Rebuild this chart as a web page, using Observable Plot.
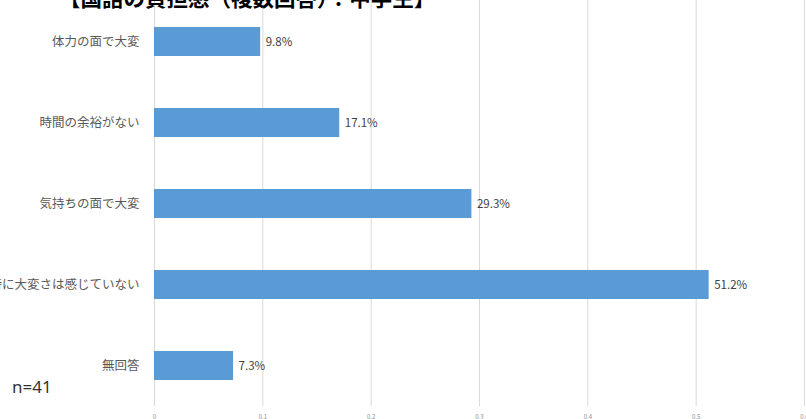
<!DOCTYPE html>
<html>
<head>
<meta charset="utf-8">
<script src="https://cdn.jsdelivr.net/npm/d3@7"></script>
<script src="https://cdn.jsdelivr.net/npm/@observablehq/plot@0.6"></script>
<style>
  html, body { margin: 0; padding: 0; background: #fff; overflow: hidden; }
  #wrap { position: relative; width: 806px; height: 419px; }
  #title { position: absolute; left: 59px; top: -16px; font-family: "Noto Sans CJK JP", sans-serif; font-weight: 700; font-size: 21.5px; color: #000; white-space: nowrap; z-index: 2; line-height: 1.2; }
  #note { position: absolute; left: 12px; top: 377px; font-family: "Noto Sans", sans-serif; font-size: 17px; color: #333; white-space: nowrap; line-height: 1.2; }
</style>
</head>
<body>
<div id="wrap">
  <div id="title">【国語の負担感（複数回答）：中学生】</div>
  <div id="chart"></div>
  <div id="note">n=41</div>
</div>
<script>
const categories = ["体力の面で大変", "時間の余裕がない", "気持ちの面で大変", "特に大変さは感じていない", "無回答"];
const values = [0.098, 0.171, 0.293, 0.512, 0.073];
const xTicks = [0, 0.1, 0.2, 0.3, 0.4, 0.5, 0.6];

const data = categories.map((c, i) => ({category: c, value: values[i]}));

const chart = Plot.plot({
  width: 806,
  height: 419,
  marginLeft: 154,
  marginRight: 2,
  marginTop: 0,
  marginBottom: 13,
  style: {fontFamily: "'Noto Sans CJK JP', sans-serif", background: "#fff"},
  x: {domain: [0, 0.6], ticks: xTicks, tickFormat: d => String(d), label: null},
  y: {domain: categories, paddingInner: 0.643, paddingOuter: 0.32, label: null},
  marks: [
    Plot.gridX(xTicks, {stroke: "#d9d9d9", strokeOpacity: 1, strokeWidth: 1}),
    Plot.barX(data, {x: "value", y: "category", fill: "#5B9BD5"}),
    Plot.text(data, {x: "value", y: "category", text: d => (d.value * 100).toFixed(1) + "%", textAnchor: "start", dx: 5, fontSize: 11.5, fill: "#404040"}),
    Plot.axisY({tickSize: 0, tickPadding: 15, fontSize: 12.5, color: "#595959"}),
    Plot.axisX({ticks: xTicks, tickFormat: d => String(d), tickSize: 0, tickPadding: 8, fontSize: 6, color: "#8c8c8c", label: null})
  ]
});
document.getElementById("chart").appendChild(chart);
</script>
</body>
</html>
